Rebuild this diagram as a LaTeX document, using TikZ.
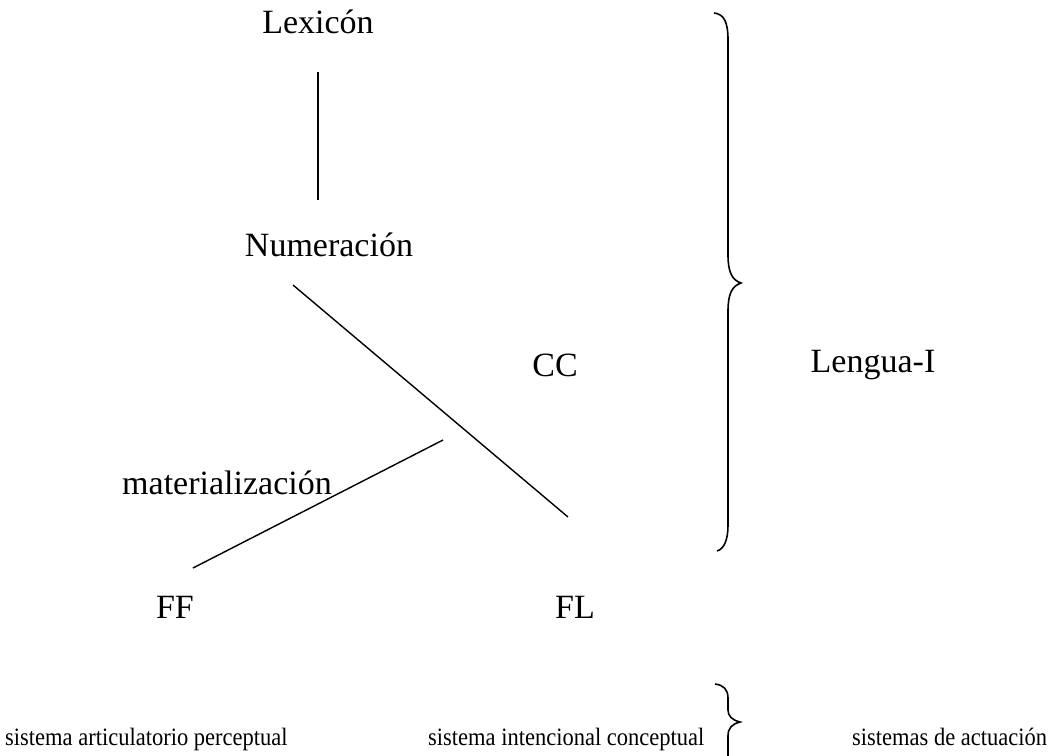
\documentclass[tikz,border=0pt]{standalone}
\usepackage{fontspec}
\setmainfont{Liberation Serif}
\begin{document}
\begin{tikzpicture}[x=1pt,y=-1pt,
  lbl/.style={inner sep=0pt, font=\fontsize{34}{40}\selectfont},
  sys/.style={inner sep=0pt, anchor=base west, font=\fontsize{25}{30}\selectfont, xscale=0.9},
  ln/.style={line width=1.4pt, black},
  brace/.style={line width=1.6pt, black}]
\useasboundingbox (0,0) rectangle (1064,755);
\node[lbl] (lex) at (318,22) {Lexicón};
\node[lbl] (num) at (329,245) {Numeración};
\node[lbl] (cc) at (555,365) {CC};
\node[lbl] (li) at (873,365) {Lengua-I};
\node[lbl] (mat) at (227,483) {materialización};
\node[lbl] (ff) at (175,607) {FF};
\node[lbl] (fl) at (575,607) {FL};
\coordinate (l1a) at (318,72);
\coordinate (l1b) at (318,200);
\coordinate (l2a) at (293,285);
\coordinate (l2b) at (568,517);
\coordinate (l3a) at (193,568);
\coordinate (l3b) at (443,440);
\draw[ln] (l1a) -- (l1b);
\draw[ln] (l2a) -- (l2b);
\draw[ln] (l3a) -- (l3b);
\coordinate (bt) at (714,13);
\coordinate (bm) at (741,283);
\coordinate (bb) at (717,551);
\draw[brace] (bt) .. controls (724,14) and (728,22) .. (728,40) -- (728,255)
  .. controls (728,272) and (732,280) .. (bm)
  .. controls (732,286) and (728,294) .. (728,311) -- (728,525)
  .. controls (728,540) and (724,549) .. (bb);
\coordinate (st) at (715,684);
\coordinate (sm) at (740,722);
\begin{scope}
\clip (0,0) rectangle (1064,755);
\draw[brace] (st) .. controls (724,685) and (728,690) .. (728,698) -- (728,710)
  .. controls (728,716) and (732,720) .. (sm)
  .. controls (732,724) and (728,728) .. (728,736) -- (728,770);
\end{scope}
\node[sys] (s1) at (5,745) {sistema articulatorio perceptual};
\node[sys] (s2) at (428,745) {sistema intencional conceptual};
\node[sys] (s3) at (852,745) {sistemas de actuación};
\end{tikzpicture}
\end{document}
